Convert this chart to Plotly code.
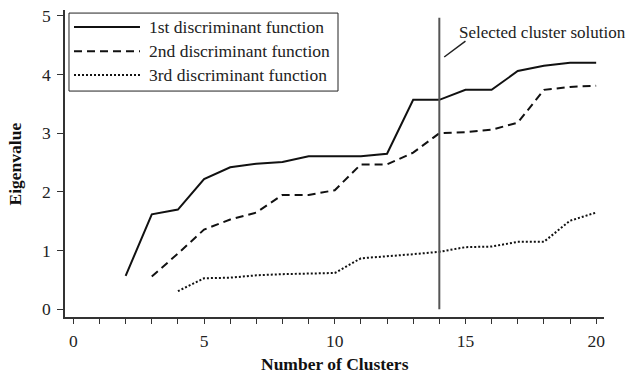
import plotly.graph_objects as go

clusters1 = list(range(2, 21))
first = [0.57, 1.62, 1.70, 2.22, 2.42, 2.48, 2.51, 2.61, 2.61, 2.61, 2.65, 3.57, 3.57, 3.74, 3.74, 4.06, 4.15, 4.20, 4.20]
clusters2 = list(range(3, 21))
second = [0.56, 0.95, 1.36, 1.53, 1.65, 1.95, 1.95, 2.03, 2.47, 2.47, 2.67, 3.00, 3.02, 3.06, 3.18, 3.74, 3.79, 3.81]
clusters3 = list(range(4, 21))
third = [0.31, 0.53, 0.54, 0.58, 0.60, 0.61, 0.62, 0.87, 0.90, 0.94, 0.98, 1.06, 1.07, 1.15, 1.15, 1.51, 1.65]
names = ["1st discriminant function", "2nd discriminant function", "3rd discriminant function"]
selected = 14
x_ticks = list(range(0, 21))
x_labels = [str(v) if v % 5 == 0 else "" for v in x_ticks]
y_ticks = [0, 1, 2, 3, 4, 5]

FONT = "Liberation Serif, Times New Roman, serif"
FS = 17.5
styles = [dict(color="#111", width=2),
          dict(color="#111", width=2, dash="8px,5px"),
          dict(color="#111", width=2, dash="2px,2px")]

fig = go.Figure()
for xs, ys, nm, st in zip([clusters1, clusters2, clusters3], [first, second, third], names, styles):
    fig.add_trace(go.Scatter(x=xs, y=ys, mode="lines", name=nm, line=st, showlegend=False))
fig.add_trace(go.Scatter(x=[selected, selected], y=[0, 4.97], mode="lines",
                         showlegend=False, line=dict(color="#555", width=2)))
fig.add_annotation(x=15.0, y=4.57, ax=14.13, ay=4.28, axref="x", ayref="y",
                   showarrow=True, arrowhead=0, arrowwidth=1.5, arrowcolor="#222",
                   text="", xref="x", yref="y")
fig.add_annotation(x=14.68, y=4.72, text="Selected cluster solution", showarrow=False,
                   xanchor="left", yanchor="middle", font=dict(size=17, color="#222", family=FONT))

# custom legend
fig.add_shape(type="rect", xref="paper", yref="paper", x0=0.0074, x1=0.5065, y0=0.736, y1=0.990,
              line=dict(color="#222", width=1), fillcolor="white", layer="above")
rows = [0.945, 0.866, 0.788]
for nm, st, ry in zip(names, styles, rows):
    fig.add_shape(type="line", xref="paper", yref="paper", x0=0.0167, x1=0.1391, y0=ry, y1=ry,
                  line=st, layer="above")
    fig.add_annotation(x=0.152, y=ry, xref="paper", yref="paper", text=nm, showarrow=False,
                       xanchor="left", yanchor="middle", font=dict(size=FS, color="#222", family=FONT))

# axis titles
fig.add_annotation(x=0.5, y=-0.153, xref="paper", yref="paper", text="<b>Number of Clusters</b>",
                   showarrow=False, xanchor="center", yanchor="middle",
                   font=dict(size=FS, family=FONT, color="#111"))
fig.add_annotation(x=-0.0928, y=0.5, xref="paper", yref="paper", text="<b>Eigenvalue</b>",
                   showarrow=False, xanchor="center", yanchor="middle", textangle=-90,
                   font=dict(size=FS, family=FONT, color="#111"))

fig.update_layout(
    width=635, height=375,
    margin=dict(l=65, r=31, t=10, b=58, autoexpand=False),
    paper_bgcolor="white", plot_bgcolor="white",
    font=dict(family=FONT, color="#222", size=FS),
    showlegend=False,
    xaxis=dict(range=[-0.32, 20.3], tickvals=x_ticks, ticktext=x_labels, automargin=False,
               showline=True, linecolor="#333", linewidth=1.5, ticks="outside",
               ticklen=5, tickcolor="#333", showgrid=False, zeroline=False,
               ticklabelstandoff=2),
    yaxis=dict(range=[-0.13, 5.1], tickvals=y_ticks, automargin=False,
               showline=True, linecolor="#333", linewidth=1.5, ticks="outside",
               ticklen=6, tickcolor="#333", showgrid=False, zeroline=False,
               ticklabelstandoff=3),
)
fig.write_html("out.html", config={"displayModeBar": False},
               post_script="document.body.style.margin='0';document.documentElement.style.overflow='hidden';")
